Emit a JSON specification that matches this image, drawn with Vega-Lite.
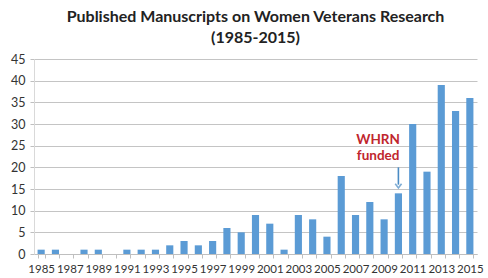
{
  "$schema": "https://vega.github.io/schema/vega-lite/v6.json",
  "width": 488,
  "height": 278,
  "autosize": {"type": "fit", "contains": "padding"},
  "padding": {"left": 10, "right": 5, "top": 9, "bottom": 3},
  "background": "white",
  "title": {
    "text": ["Published Manuscripts on Women Veterans Research", "(1985-2015)"],
    "font": "Lato",
    "fontSize": 16,
    "fontWeight": "bold",
    "color": "#222222",
    "lineHeight": 21,
    "offset": 7
  },
  "config": {
    "view": {"stroke": null},
    "axis": {"labelFont": "Lato", "labelColor": "#333333"}
  },
  "datasets": {
    "pubs": [
      {"year": "1985", "count": 1}, {"year": "1986", "count": 1}, {"year": "1987", "count": 0},
      {"year": "1988", "count": 1}, {"year": "1989", "count": 1}, {"year": "1990", "count": 0},
      {"year": "1991", "count": 1}, {"year": "1992", "count": 1}, {"year": "1993", "count": 1},
      {"year": "1994", "count": 2}, {"year": "1995", "count": 3}, {"year": "1996", "count": 2},
      {"year": "1997", "count": 3}, {"year": "1998", "count": 6}, {"year": "1999", "count": 5},
      {"year": "2000", "count": 9}, {"year": "2001", "count": 7}, {"year": "2002", "count": 1},
      {"year": "2003", "count": 9}, {"year": "2004", "count": 8}, {"year": "2005", "count": 4},
      {"year": "2006", "count": 18}, {"year": "2007", "count": 9}, {"year": "2008", "count": 12},
      {"year": "2009", "count": 8}, {"year": "2010", "count": 14}, {"year": "2011", "count": 30},
      {"year": "2012", "count": 19}, {"year": "2013", "count": 39}, {"year": "2014", "count": 33},
      {"year": "2015", "count": 36}
    ],
    "labels": [
      {"year": "2009", "count": 26.3, "text": "WHRN"},
      {"year": "2009", "count": 22.6, "text": "funded"}
    ],
    "arrow": [
      {"year": "2010", "count": 20.0, "count2": 16.0, "tip": 15.7}
    ]
  },
  "encoding": {
    "x": {
      "field": "year", "type": "ordinal", "title": null,
      "scale": {"paddingInner": 0.5, "paddingOuter": 0.25},
      "axis": {
        "labelAngle": 0,
        "labelFontSize": 11.5,
        "labelOverlap": false,
        "labelExpr": "parseInt(datum.value) % 2 == 1 ? datum.label : ''",
        "tickBand": "extent",
        "domainColor": "#bfbfbf",
        "tickColor": "#bfbfbf",
        "tickSize": 4,
        "labelPadding": 5,
        "grid": false
      }
    },
    "y": {
      "field": "count", "type": "quantitative", "title": null,
      "scale": {"domain": [0, 45], "nice": false, "zero": true},
      "axis": {
        "values": [0, 5, 10, 15, 20, 25, 30, 35, 40, 45],
        "labelOverlap": false,
        "labelFontSize": 12.5,
        "domain": true,
        "domainColor": "#d9d9d9",
        "ticks": true,
        "tickSize": 4,
        "tickColor": "#bfbfbf",
        "labelPadding": 5,
        "gridColor": "#c4c4c4"
      }
    }
  },
  "layer": [
    {
      "data": {"name": "pubs"},
      "mark": {"type": "bar", "color": "#5b9bd5"}
    },
    {
      "data": {"name": "labels"},
      "mark": {"type": "text", "font": "Lato", "fontSize": 13.5, "fontWeight": "bold", "color": "#c0262d", "dx": -6},
      "encoding": {
        "text": {"field": "text"}
      }
    },
    {
      "data": {"name": "arrow"},
      "mark": {"type": "rule", "color": "#4a8bc4", "strokeWidth": 1.6},
      "encoding": {
        "y2": {"field": "count2"}
      }
    },
    {
      "data": {"name": "arrow"},
      "mark": {"type": "point", "shape": "M-1,-0.7L0,0.6L1,-0.7", "filled": false, "color": "#4a8bc4", "strokeWidth": 1.6, "size": 40},
      "encoding": {
        "y": {"field": "tip", "type": "quantitative"}
      }
    }
  ]
}
